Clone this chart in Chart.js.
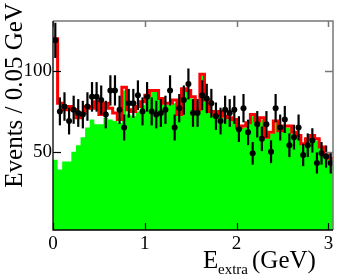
<!DOCTYPE html>
<html><head><meta charset="utf-8">
<script src="https://cdn.jsdelivr.net/npm/chart.js@4.4.1/dist/chart.umd.min.js"></script>
<style>html,body{margin:0;padding:0;background:#fff;}#wrap{width:349px;height:280px;}</style>
</head><body><div id="wrap"><canvas id="c" width="349" height="280"></canvas></div>
<script>
// Binning: 61 bins of 0.05 GeV from 0 to 3.05 GeV
const binWidth = 0.05;
const xTickValues = [0, 1, 2, 3];
const yTickValues = [50, 100];
const xTitleMain = 'E', xTitleSub = 'extra', xTitleUnit = '(GeV)';
const yTitle = 'Events / 0.05 GeV';

// Data points (events per bin)
const dataCounts = [
  119,75,78,69,76,74,73,78,84,84,
  82,73,88,88,76,65,80,80,85,75,
  84,75,73,74,76,88,65,77,82,92,
  74,74,85,83,80,72,69,76,74,76,
  64,77,62,49,67,58,67,50,77,65,
  70,54,59,65,48,54,57,43,49,47,43
];
// Total (red histogram)
const totalFit = [
  120,80,76,78,76,71,74,78,77,81,
  73,80,77,74,70,90,76,75,78,81,
  85,88,88,83,80,80,82,73,89,88,
  84,76,98,82,75,73,75,72,71,70,
  65,66,68,73,69,71,59,62,69,63,
  66,66,62,60,55,58,60,58,53,48,46
];
// Background (green filled histogram)
const background = [
  45,39,44,44,50,54,59,65,70,67,
  67,71,70,69,68,88,73,72,75,79,
  84,87,87,82,79,79,80,72,88,87,
  83,74,97,81,74,72,74,71,70,69,
  64,65,67,72,68,70,58,61,68,62,
  65,65,61,59,54,57,59,57,52,47,45
];

function histPoints(vals){
  const pts = vals.map((v,i)=>({x:i*binWidth, y:v}));
  pts.push({x: vals.length*binWidth, y: vals[vals.length-1]});
  return pts;
}
const FONT = '"Liberation Serif", "Times New Roman", serif';

const errorBars = {
  id:'errorBars',
  beforeDatasetDraw(chart, args){
    if(args.index !== 2) return;
    const {ctx, chartArea:a, scales:{x,y}} = chart;
    ctx.save();
    ctx.beginPath(); ctx.rect(a.left, a.top, a.right-a.left, a.bottom-a.top); ctx.clip();
    ctx.strokeStyle = '#000'; ctx.lineWidth = 2.2;
    dataCounts.forEach((n,i)=>{
      const e = Math.sqrt(n);
      const px = x.getPixelForValue((i+0.5)*binWidth);
      ctx.beginPath();
      ctx.moveTo(px, y.getPixelForValue(n-e));
      ctx.lineTo(px, y.getPixelForValue(n+e));
      ctx.stroke();
    });
    ctx.restore();
  }
};

const frame = {
  id:'frame',
  afterDatasetsDraw(chart){
    const {ctx, chartArea:a, scales:{x,y}} = chart;
    ctx.save();
    ctx.strokeStyle = '#777'; ctx.lineWidth = 1.5;
    ctx.beginPath();
    ctx.moveTo(a.left, a.top); ctx.lineTo(a.right, a.top); ctx.lineTo(a.right, a.bottom);
    ctx.stroke();
    xTickValues.forEach(v=>{
      const px = Math.round(x.getPixelForValue(v))+0.5;
      ctx.beginPath(); ctx.moveTo(px, a.top); ctx.lineTo(px, a.top+6); ctx.stroke();
    });
    yTickValues.forEach(v=>{
      const py = Math.round(y.getPixelForValue(v))+0.5;
      ctx.beginPath(); ctx.moveTo(a.right, py); ctx.lineTo(a.right-8, py); ctx.stroke();
    });
    ctx.strokeStyle = '#000'; ctx.lineWidth = 1.3;
    ctx.beginPath();
    ctx.moveTo(a.left, a.top); ctx.lineTo(a.left, a.bottom); ctx.lineTo(a.right, a.bottom);
    ctx.stroke();
    ctx.lineWidth = 1.2;
    xTickValues.forEach(v=>{
      const px = Math.round(x.getPixelForValue(v))+0.5;
      ctx.beginPath(); ctx.moveTo(px, a.bottom); ctx.lineTo(px, a.bottom-7); ctx.stroke();
    });
    yTickValues.forEach(v=>{
      const py = Math.round(y.getPixelForValue(v))+0.5;
      ctx.beginPath(); ctx.moveTo(a.left, py); ctx.lineTo(a.left+8, py); ctx.stroke();
    });
    ctx.restore();
  },
  afterDraw(chart){
    const {ctx} = chart;
    ctx.save();
    ctx.fillStyle = '#000';
    ctx.textBaseline = 'alphabetic';
    ctx.textAlign = 'left';
    ctx.font = '25px ' + FONT;
    ctx.fillText(xTitleMain, 203, 268);
    ctx.font = '15px ' + FONT;
    ctx.fillText(xTitleSub, 218, 274);
    ctx.font = '25px ' + FONT;
    ctx.fillText(xTitleUnit, 252, 268);
    ctx.translate(22, 3);
    ctx.rotate(-Math.PI/2);
    ctx.textAlign = 'right';
    ctx.font = '25px ' + FONT;
    ctx.fillText(yTitle, 0, 0);
    ctx.restore();
  }
};

new Chart(document.getElementById('c'), {
  type:'line',
  data:{
    datasets:[
      {label:'background', data:histPoints(background), stepped:'before', fill:'start',
       backgroundColor:'#00ff00', borderColor:'#00ff00', borderWidth:0, pointRadius:0, order:3},
      {label:'total', data:histPoints(totalFit), stepped:'before', fill:false,
       borderColor:'#ff0000', borderWidth:3, pointRadius:0, order:2},
      {label:'data', data:dataCounts.map((n,i)=>({x:(i+0.5)*binWidth, y:n})), showLine:false,
       pointRadius:3, pointBackgroundColor:'#000', pointBorderColor:'#000', pointBorderWidth:0, order:1}
    ]
  },
  options:{
    responsive:false, animation:false,
    layout:{padding:{top:21, right:16, left:0, bottom:0}},
    plugins:{legend:{display:false}, tooltip:{enabled:false}},
    scales:{
      x:{type:'linear', min:0, max:3.05,
        grid:{display:false, drawTicks:false}, border:{display:false},
        afterBuildTicks:s=>{s.ticks = xTickValues.map(v=>({value:v}));},
        afterFit:s=>{s.height = 50;},
        ticks:{font:{family:FONT, size:19}, color:'#000', padding:3, maxRotation:0, autoSkip:false,
          callback:v=>String(v)}},
      y:{type:'linear', min:1.5, max:131,
        grid:{display:false, drawTicks:false}, border:{display:false},
        afterBuildTicks:s=>{s.ticks = yTickValues.map(v=>({value:v}));},
        afterFit:s=>{s.width = 53;},
        ticks:{font:{family:FONT, size:19}, color:'#000', padding:1, autoSkip:false,
          callback:v=>String(v)}}
    }
  },
  plugins:[errorBars, frame]
});
</script></body></html>
